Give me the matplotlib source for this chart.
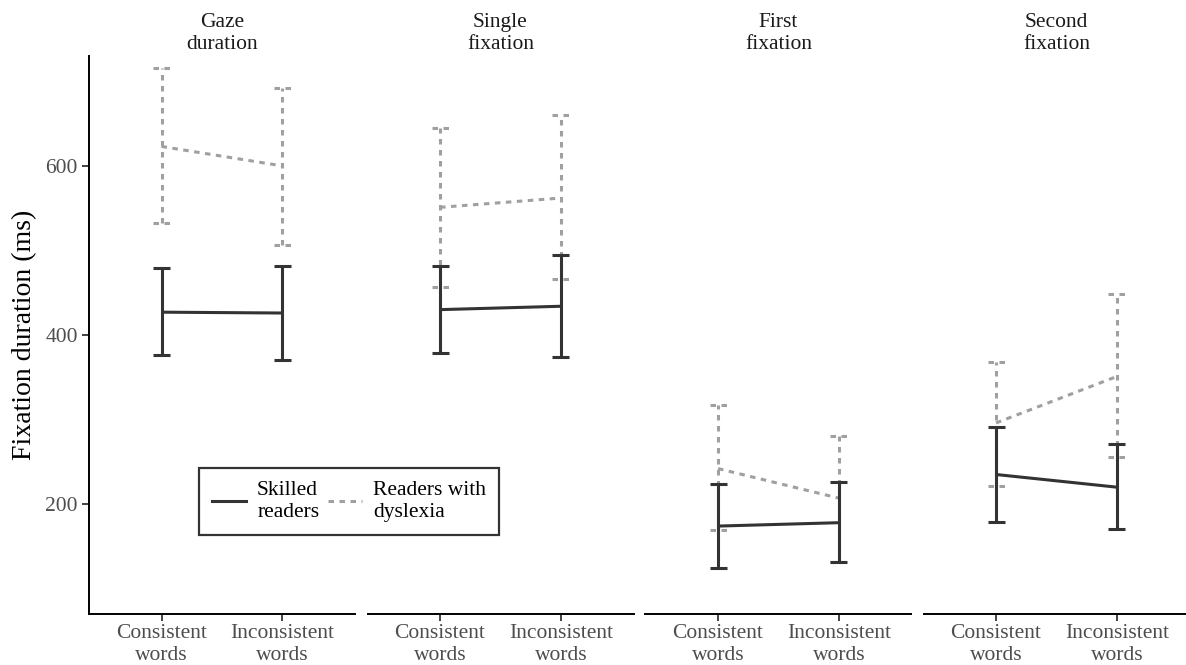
import numpy as np
import matplotlib
matplotlib.use("Agg")
import matplotlib.pyplot as plt
from matplotlib.lines import Line2D

# ---- data ----
measures = ["Gaze\nduration", "Single\nfixation", "First\nfixation", "Second\nfixation"]
conditions = ["Consistent\nwords", "Inconsistent\nwords"]
groups = ["Skilled\nreaders", "Readers with\ndyslexia"]

skilled_mean = [[427, 426], [430, 434], [174, 178], [235, 220]]
skilled_low = [[376, 370], [379, 374], [125, 131], [179, 170]]
skilled_high = [[479, 482], [482, 495], [224, 226], [291, 271]]

dyslexia_mean = [[623, 600], [551, 562], [242, 207], [296, 351]]
dyslexia_low = [[532, 507], [457, 466], [169, 131], [221, 256]]
dyslexia_high = [[716, 692], [645, 660], [317, 281], [368, 448]]

y_ticks = [200, 400, 600]

# ---- style ----
plt.rcParams["font.family"] = ["Liberation Serif", "DejaVu Serif"]
W, H = 1186, 665
fig = plt.figure(figsize=(W / 100, H / 100), dpi=100)

dark = "#333333"
grey = "#a0a0a0"
lw = 2.2
cap = 0.07
fs = 15.5
lsp = 1.2

lefts = [89, 367.5, 645.5, 923.5]
pw = 266
top, bottom = 56, 614

series = [
    (dyslexia_mean, dyslexia_low, dyslexia_high, grey, (0, (1.8, 1.8))),
    (skilled_mean, skilled_low, skilled_high, dark, "solid"),
]

x = np.arange(1, len(conditions) + 1)
for i, m in enumerate(measures):
    ax = fig.add_axes([lefts[i] / W, 1 - bottom / H, pw / W, (bottom - top) / H])
    for mean, low, high, col, ls in series:
        mv = np.array(mean[i]); lv = np.array(low[i]); hv = np.array(high[i])
        ax.plot(x, mv, color=col, lw=lw, linestyle=ls, solid_capstyle="butt", dash_capstyle="butt")
        ax.vlines(x, lv, hv, color=col, lw=lw, linestyles=ls)
        ax.hlines(lv, x - cap, x + cap, color=col, lw=lw, linestyles=ls)
        ax.hlines(hv, x - cap, x + cap, color=col, lw=lw, linestyles=ls)
    ax.set_xlim(0.4, 2.6)
    ax.set_ylim(70, 730)
    ax.set_xticks(x)
    ax.set_xticklabels(conditions, fontsize=fs, color="#4d4d4d", linespacing=lsp)
    for s in ["top", "right"]:
        ax.spines[s].set_visible(False)
    ax.spines["bottom"].set_linewidth(1.4)
    ax.spines["bottom"].set_color("black")
    ax.tick_params(axis="x", length=5, width=1.3, color="#333333", pad=2)
    if i == 0:
        ax.set_yticks(y_ticks)
        ax.set_yticklabels([str(t) for t in y_ticks], fontsize=fs, color="#4d4d4d")
        ax.tick_params(axis="y", length=5, width=1.3, color="#333333", pad=3)
        ax.spines["left"].set_linewidth(1.4)
        ax.spines["left"].set_color("black")
        ax.set_ylabel("Fixation duration (ms)", fontsize=20, color="black", labelpad=6)
    else:
        ax.spines["left"].set_visible(False)
        ax.set_yticks([])
    ax.set_title(m, fontsize=fs, color="#1a1a1a", linespacing=lsp, pad=5)
    ax.patch.set_alpha(0)
    if i == 0:
        handles = [Line2D([0], [0], color=dark, lw=lw, linestyle="solid"),
                   Line2D([0], [0], color=grey, lw=lw, linestyle=(0, (1.8, 1.8)))]
        leg = ax.legend(handles, groups, loc="upper left", ncol=2,
                        bbox_to_anchor=((199 - lefts[0]) / pw, (bottom - 468) / (bottom - top)),
                        fontsize=fs, frameon=True, fancybox=False, edgecolor="black",
                        handlelength=1.6, handletextpad=0.5, columnspacing=0.4,
                        borderpad=0.6, borderaxespad=0)
        leg.get_frame().set_linewidth(1.6)
        for t in leg.get_texts():
            t.set_linespacing(lsp)

fig.savefig("out.png", dpi=100)
